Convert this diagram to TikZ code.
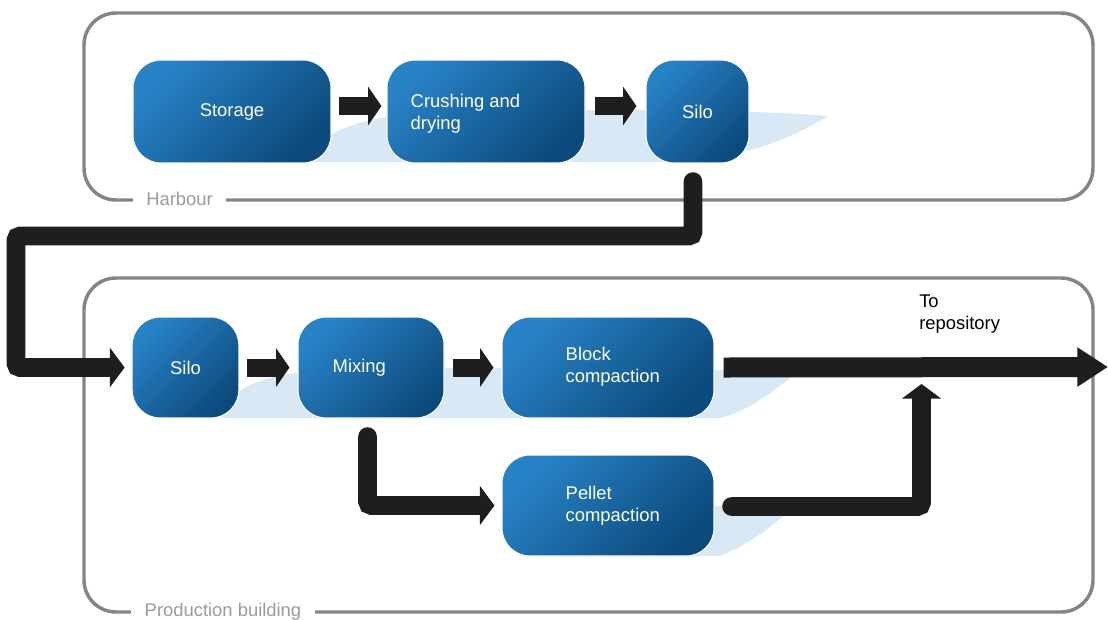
\documentclass[tikz,border=0pt]{standalone}
\usepackage{fontspec}
\setmainfont{Liberation Sans}
\usetikzlibrary{arrows.meta}
\definecolor{boxlight}{RGB}{40,130,198}
\definecolor{boxdark}{RGB}{12,74,124}
\definecolor{arrowc}{RGB}{30,30,30}
\definecolor{framec}{RGB}{133,133,133}
\definecolor{framelbl}{RGB}{155,155,155}
\definecolor{shadowc}{RGB}{216,232,245}
\newcommand\diagfont{\fontsize{13.8pt}{16.5pt}\selectfont}
\begin{document}
\begin{tikzpicture}[x=0.75pt,y=-0.75pt,
 framebox/.style={draw=framec, line width=2.6pt, rounded corners=24pt},
 framelabel/.style={fill=white, text=framelbl, font=\diagfont, inner xsep=10pt, inner ysep=1pt},
 proc/.style={draw=white, line width=0.8pt, rounded corners=21pt, top color=boxlight, bottom color=boxdark, shading angle=45, text=white, font=\diagfont, inner sep=0pt, align=center},
 proctext/.style={text=white, font=\diagfont, align=left, anchor=west, inner sep=0pt},
 flow/.style={draw=arrowc, line width=13.5pt, -{Triangle[length=10pt,width=28.5pt]}},
 route/.style={draw=arrowc, line width=14pt, line cap=round, rounded corners=3pt, -{Triangle[length=11pt,width=29pt]}},
 outflow/.style={draw=arrowc, line width=15pt, -{Triangle[length=23pt,width=28pt]}},
 glow/.style={fill=shadowc}
]
\useasboundingbox (0,0) rectangle (1108,619);

% containers
\draw[framebox] (84,13) rectangle (1093,200);
\draw[framebox] (84,278) rectangle (1093,612);
\node[framelabel] (harbour) at (179.5,199) {Harbour};
\node[framelabel] (prod) at (223,611.5) {Production building};

% soft shadows
\fill[glow] (310,162) .. controls (320,118) and (400,110) .. (520,110) .. controls (650,110) and (760,110) .. (828,116) .. controls (790,140) and (740,158) .. (680,162) -- cycle;
\fill[glow] (222,418) .. controls (232,372) and (300,368) .. (420,368) .. controls (600,368) and (720,366) .. (792,376) .. controls (770,395) and (745,412) .. (720,418) -- cycle;
\fill[glow] (520,556) -- (720,556) .. controls (750,545) and (780,520) .. (796,505) .. controls (760,505) and (730,505) .. (714,506) -- cycle;

% process boxes
\node[proc, minimum width=148.5pt, minimum height=77.25pt] (storage) at (232,111.5) {\raisebox{-1.5pt}{Storage}};
\node[proc, minimum width=148.5pt, minimum height=77.25pt] (crush) at (486,111.5) {};
\node[proctext] (crushtxt) at ([xshift=18pt,yshift=-1.5pt]crush.west) {Crushing and\\drying};
\node[proc, minimum width=77.25pt, minimum height=77.25pt] (silo1) at (697.5,111.5) {\raisebox{-1.5pt}{Silo}};

\node[proc, minimum width=80pt, minimum height=75.75pt] (silo2) at (185.5,367.5) {\raisebox{-1.5pt}{Silo}};
\node[proc, minimum width=109.5pt, minimum height=75.75pt] (mixing) at (371,367.5) {};
\node[proctext] (mixtxt) at ([xshift=26.25pt,yshift=-0.5pt]mixing.west) {Mixing};
\node[proc, minimum width=159pt, minimum height=75.75pt] (block) at (608,367.5) {};
\node[proctext] (blocktxt) at ([xshift=48pt,yshift=0.5pt]block.west) {Block\\compaction};
\node[proc, minimum width=159pt, minimum height=75.75pt] (pellet) at (608,505.5) {};
\node[proctext] (pellettxt) at ([xshift=48pt,yshift=0pt]pellet.west) {Pellet\\compaction};

% connectors
\draw[flow] ([xshift=5.25pt,yshift=4.1pt]storage.east) -- ([xshift=-3.75pt,yshift=4.1pt]crush.west);
\draw[flow] ([xshift=6.75pt,yshift=4.1pt]crush.east) -- ([xshift=-6.75pt,yshift=4.1pt]silo1.west);
\draw[flow] ([xshift=6pt]silo2.east) -- ([xshift=-6pt]mixing.west);
\draw[flow] ([xshift=6pt]mixing.east) -- ([xshift=-6pt]block.west);

\coordinate (c1) at (693,236);
\coordinate (c2) at (16,236);
\draw[route] ([xshift=-3.4pt,yshift=-13.5pt]silo1.south) -- (c1) -- (c2) |- ([xshift=-5.25pt]silo2.west);
\draw[route] ([xshift=-2.6pt,yshift=-13.5pt]mixing.south) |- ([xshift=-5.25pt]pellet.west);

\coordinate (repo) at (1108,367);
\coordinate (merge) at (921.5,384);
\draw[outflow] ([xshift=6.75pt]block.east) -- (repo);
\draw[route] ([xshift=12.75pt,yshift=-0.75pt]pellet.east) -| (merge);

\node[font=\diagfont, align=left, anchor=west, inner sep=0pt] (repotxt) at (919,314.5) {To\\repository};
\end{tikzpicture}
\end{document}
